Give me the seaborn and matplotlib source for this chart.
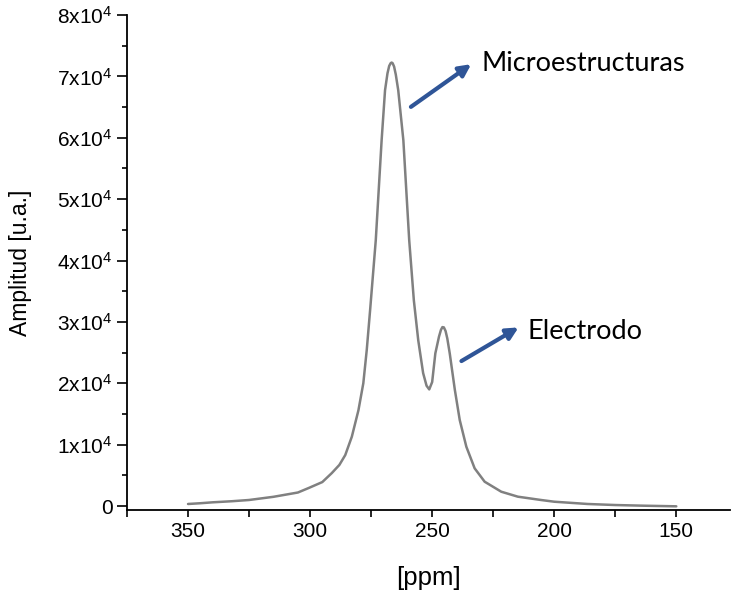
import matplotlib
matplotlib.use("Agg")
import matplotlib.pyplot as plt
import seaborn as sns
import pandas as pd
from matplotlib.ticker import MultipleLocator, FuncFormatter

# Data
ppm = [350, 345, 340, 332, 325, 315, 305, 300.6, 295, 291.1, 288, 285.6, 282.9, 280.2,
       278.2, 276.8, 275.4, 273.1, 270.7, 269.3, 268.3, 267.6, 267.0, 266.6, 266.2,
       265.6, 264.9, 263.9, 261.8, 259.4, 257.5, 255.7, 253.7, 252.3, 251.2, 250.0,
       248.7, 247.2, 246.4, 245.8, 245.2, 244.5, 243.8, 242.8, 240.7, 238.7, 236.0,
       232.6, 228.5, 221.7, 214.9, 205.4, 200.0, 186.3, 175.0, 163.3, 150.0]
amplitude = [330, 450, 600, 780, 980, 1500, 2200, 2930, 3900, 5370, 6700, 8300, 11300, 15600,
             20000, 25400, 32000, 43300, 59600, 67750, 70500, 71700, 72150, 72250, 72150,
             71600, 70300, 67750, 59600, 43300, 33500, 27000, 21660, 19600, 19000, 20200,
             24870, 27600, 28700, 29150, 29100, 28500, 27300, 24870, 18900, 14000, 9660,
             6140, 3960, 2330, 1520, 980, 700, 330, 160, 50, -50]
y_ticks = [0, 10000, 20000, 30000, 40000, 50000, 60000, 70000, 80000]
x_ticks = [350, 300, 250, 200, 150]

df = pd.DataFrame({"ppm": ppm, "amp": amplitude})

sns.set_style("ticks")
plt.rcParams['font.family'] = ['Liberation Sans', 'DejaVu Sans']
plt.rcParams['mathtext.fontset'] = 'custom'
plt.rcParams['mathtext.rm'] = 'Liberation Sans'
plt.rcParams['text.color'] = 'black'
plt.rcParams['axes.labelcolor'] = 'black'
plt.rcParams['xtick.color'] = 'black'
plt.rcParams['ytick.color'] = 'black'

fig = plt.figure(figsize=(7.32, 5.92), dpi=100)
ax = fig.add_axes([127/732, 82/592, 603/732, 495/592])

sns.lineplot(data=df, x="ppm", y="amp", ax=ax, color="#808080", linewidth=1.8,
             estimator=None, sort=False)

ax.set_xlim(375, 128)
ax.set_ylim(-650, 80000)
ax.set_xticks(x_ticks)
ax.xaxis.set_minor_locator(MultipleLocator(25))
ax.set_yticks(y_ticks)
ax.yaxis.set_minor_locator(MultipleLocator(5000))

def yfmt(v, pos):
    if v == 0:
        return "0"
    return r"$\mathregular{%dx10^{4}}$" % int(round(v / 10000))
ax.yaxis.set_major_formatter(FuncFormatter(yfmt))

ax.tick_params(axis='both', which='major', labelsize=15, direction='out', width=1.2,
               colors='black')
ax.tick_params(axis='y', which='major', length=7)
ax.tick_params(axis='y', which='minor', length=3.5, width=1.2)
ax.tick_params(axis='x', which='major', length=5)
ax.tick_params(axis='x', which='minor', length=5, width=1.2)

sns.despine(ax=ax)
for s in ['left', 'bottom']:
    ax.spines[s].set_linewidth(1.3)
    ax.spines[s].set_color('black')

ax.set_xlabel("[ppm]", fontsize=18.5, labelpad=18, color='black')
ax.set_ylabel("Amplitud [u.a.]", fontsize=16.5, labelpad=18, color='black')

arrow_kw = dict(arrowstyle="-|>,head_length=0.7,head_width=0.35", color="#2F5597",
                lw=3, shrinkA=0, shrinkB=0)
ax.annotate("", xy=(234.0, 71990), xytext=(258.7, 65030), arrowprops=arrow_kw)
ax.text(229.9, 72150, "Microestructuras", fontsize=19.5, family=['Lato', 'DejaVu Sans'],
        ha='left', va='center', color='black')
ax.annotate("", xy=(214.6, 29100), xytext=(238.0, 23620), arrowprops=arrow_kw)
ax.text(210.8, 28390, "Electrodo", fontsize=19.5, family=['Lato', 'DejaVu Sans'],
        ha='left', va='center', color='black')

fig.savefig("out.png", dpi=100)
